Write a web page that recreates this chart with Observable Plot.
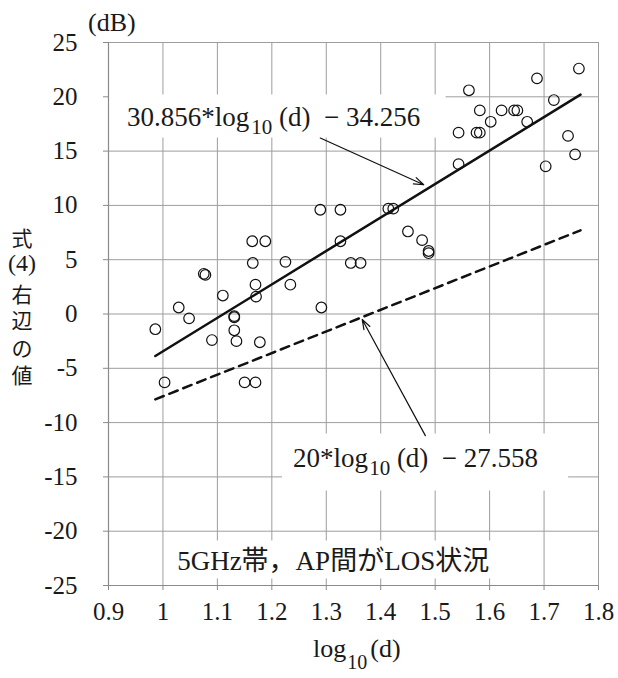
<!DOCTYPE html>
<html><head><meta charset="utf-8">
<script src="https://cdn.jsdelivr.net/npm/d3@7"></script>
<script src="https://cdn.jsdelivr.net/npm/@observablehq/plot@0.6"></script>
<style>
html,body{margin:0;padding:0;background:#fff;}
#chart svg{display:block;}
#chart svg text{font-family:"Liberation Serif","Noto Sans CJK JP",serif;}
#chart svg text.cjk{font-family:"Noto Sans CJK JP",sans-serif;}
</style>
</head><body><div id="chart"></div>
<script>
// ---- data ----
const xTicks = [0.9, 1.0, 1.1, 1.2, 1.3, 1.4, 1.5, 1.6, 1.7, 1.8];
const xTickLabels = ["0.9", "1", "1.1", "1.2", "1.3", "1.4", "1.5", "1.6", "1.7", "1.8"];
const yTicks = [-25, -20, -15, -10, -5, 0, 5, 10, 15, 20, 25];
const yTickLabels = ["-25", "-20", "-15", "-10", "-5", "0", "5", "10", "15", "20", "25"];

const logD = [0.986,1.003,1.029,1.048,1.075,1.078,1.090,1.110,1.131,1.131,1.131,1.135,1.150,1.164,1.165,1.170,1.171,1.170,1.178,1.188,1.225,1.234,1.289,1.291,1.326,1.326,1.345,1.363,1.414,1.423,1.450,1.476,1.488,1.488,1.543,1.543,1.562,1.576,1.582,1.582,1.602,1.622,1.645,1.651,1.669,1.687,1.703,1.718,1.744,1.757,1.764];
const value = [-1.4,-6.3,0.6,-0.4,3.7,3.6,-2.4,1.7,-0.3,-0.2,-1.5,-2.5,-6.3,6.7,4.7,2.7,1.6,-6.3,-2.6,6.7,4.8,2.7,9.6,0.6,9.6,6.7,4.7,4.7,9.7,9.7,7.6,6.8,5.8,5.6,13.8,16.7,20.6,16.7,16.7,18.75,17.7,18.75,18.75,18.75,17.7,21.7,13.6,19.7,16.4,14.7,22.6];

// fitted line end points
const fitLogD = [0.986, 1.767];
const fitValue = [-3.87, 20.2];
// reference (20 log d) line end points
const refLogD = [0.986, 1.767];
const refValue = [-7.86, 7.7];

// annotation arrows (tail -> head)
const arrowX1 = [1.289, 1.482];
const arrowY1 = [16.2, -11.2];
const arrowX2 = [1.479, 1.366];
const arrowY2 = [11.9, -0.5];

// white label backgrounds
const boxX1 = [0.9, 1.2196, 1.010];
const boxX2 = [1.52, 1.745, 1.62];
const boxY1 = [16.2, -16.3, -24.4];
const boxY2 = [20.17, -11.05, -20.9];

// annotation anchor points (text start, baseline)
const noteX = [0.935, 1.240, 1.027];
const noteY = [17.31, -14.18, -23.66];

const points = logD.map((x, i) => ({x, y: value[i]}));
const fitLine = fitLogD.map((x, i) => ({x, y: fitValue[i]}));
const refLine = refLogD.map((x, i) => ({x, y: refValue[i]}));
const arrows = arrowX1.map((x1, i) => ({x1, y1: arrowY1[i], x2: arrowX2[i], y2: arrowY2[i]}));
const boxes = boxX1.map((x1, i) => ({x1, x2: boxX2[i], y1: boxY1[i], y2: boxY2[i]}));

const xLab = new Map(xTicks.map((t, i) => [t, xTickLabels[i]]));
const yLab = new Map(yTicks.map((t, i) => [t, yTickLabels[i]]));

const GRID = "#9d9d9d";

const plot = Plot.plot({
  width: 618, height: 678,
  marginLeft: 108, marginRight: 20, marginTop: 42, marginBottom: 93,
  style: {fontSize: "25px", color: "#1a1a1a", background: "#fff", overflow: "visible"},
  x: {domain: [0.9, 1.8]},
  y: {domain: [-25, 25]},
  marks: [
    Plot.gridX(xTicks, {stroke: GRID, strokeOpacity: 1, strokeWidth: 1}),
    Plot.gridY(yTicks, {stroke: GRID, strokeOpacity: 1, strokeWidth: 1}),
    Plot.rect(boxes, {x1: "x1", x2: "x2", y1: "y1", y2: "y2", fill: "white"}),
    Plot.ruleX([0.9], {stroke: "#8a8a8a", strokeWidth: 1.2}),
    Plot.ruleY([-25], {stroke: "#8a8a8a", strokeWidth: 1.2}),
    Plot.axisX(xTicks, {tickFormat: d => xLab.get(d), tickSize: 5, tickPadding: 12, stroke: "#8a8a8a", fill: "#1a1a1a", fontSize: 25, label: null}),
    Plot.axisY(yTicks, {tickFormat: d => yLab.get(d), tickSize: 5, tickPadding: 26, stroke: "#8a8a8a", fill: "#1a1a1a", fontSize: 25, label: null}),
    Plot.line(refLine, {x: "x", y: "y", stroke: "#111", strokeWidth: 2.5, strokeDasharray: "9,6"}),
    Plot.line(fitLine, {x: "x", y: "y", stroke: "#111", strokeWidth: 2.5}),
    Plot.dot(points, {x: "x", y: "y", r: 5.3, stroke: "#111", strokeWidth: 1.2, fill: "none"}),
    Plot.arrow(arrows, {x1: "x1", y1: "y1", x2: "x2", y2: "y2", stroke: "#111", strokeWidth: 1.2, headLength: 13, headAngle: 38})
  ]
});
document.getElementById("chart").appendChild(plot);

const sx = plot.scale("x"), sy = plot.scale("y");
const svg = d3.select(plot);

function rich(parts, px, py, size) {
  const t = svg.append("text")
    .attr("x", px).attr("y", py)
    .attr("text-anchor", "start")
    .attr("font-size", size)
    .attr("fill", "#1a1a1a")
    .style("white-space", "pre");
  parts.forEach(p => {
    const ts = t.append("tspan").text(p.t);
    if (p.sub) ts.attr("font-size", p.sub).attr("dy", p.dy);
    if (p.dx) ts.attr("dx", p.dx);
    if (p.back) ts.attr("dy", p.back);
  });
  return t;
}

// annotation 1
rich([{t: "30.856*log"}, {t: "10", sub: 21, dy: 8, dx: 2}, {t: " (d)  − 34.256", back: -8}],
  sx.apply(noteX[0]), sy.apply(noteY[0]), 27);
// annotation 2
rich([{t: "20*log"}, {t: "10", sub: 21, dy: 8, dx: 1}, {t: " (d)  − 27.558", back: -8}],
  sx.apply(noteX[1]), sy.apply(noteY[1]), 27);
// annotation 3
rich([{t: "5GHz帯，AP間がLOS状況"}], sx.apply(noteX[2]), sy.apply(noteY[2]), 27);

// unit
rich([{t: "(dB)"}], 88, 31, 26);

// x axis title
rich([{t: "log"}, {t: "10", sub: 20, dy: 12, dx: 1}, {t: "(d)", back: -12, dx: 3}], 313, 657, 26);

// y axis title (stacked)
const yTitle = ["式", "(4)", "右", "辺", "の", "値"];
const yTitleCenters = [237, 263, 292.5, 319, 347, 374];
yTitle.forEach((c, i) => {
  svg.append("text")
    .attr("class", c === "(4)" ? null : "cjk")
    .attr("x", 22).attr("y", yTitleCenters[i])
    .attr("text-anchor", "middle")
    .attr("dominant-baseline", "central")
    .attr("font-size", c === "(4)" ? 24 : 21)
    .attr("fill", "#1a1a1a")
    .text(c);
});
</script>
</body></html>
